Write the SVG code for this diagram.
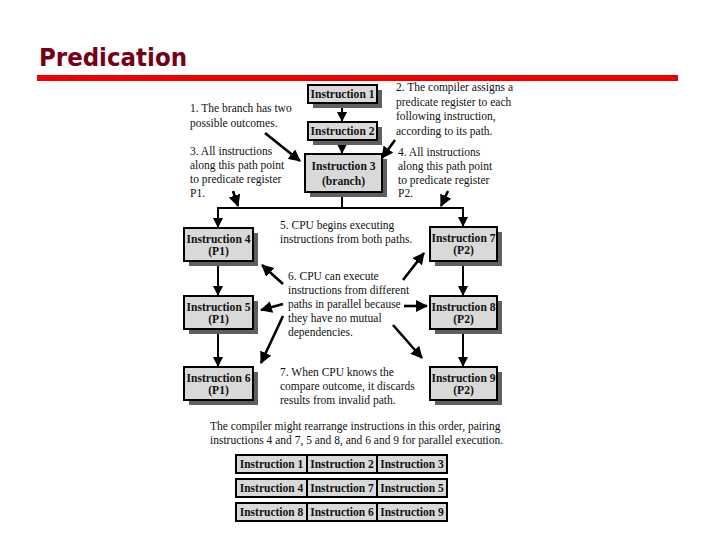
<svg xmlns="http://www.w3.org/2000/svg" width="720" height="540" viewBox="0 0 720 540">
<defs>
<style>
.box{fill:#d9d9d9;stroke:#000;stroke-width:2}
.shadow{fill:#5f5f5f}
.bl{font-family:"Liberation Serif","Times New Roman",serif;font-weight:bold;font-size:11.6px;fill:#111;text-anchor:middle}
.tl{font-family:"Liberation Serif","Times New Roman",serif;font-weight:bold;font-size:11.5px;fill:#111;text-anchor:middle}
.note{font-family:"Liberation Serif","Times New Roman",serif;font-size:11.5px;fill:#111}
.conn{stroke:#000;stroke-width:2;fill:none}
.ann{stroke:#000;stroke-width:2.6;fill:none}
</style>
<marker id="ah" markerUnits="userSpaceOnUse" markerWidth="10" markerHeight="10" refX="10" refY="5" orient="auto">
<path d="M0,0 L10,5 L0,10 z" fill="#000"/>
</marker>
<marker id="big" markerUnits="userSpaceOnUse" markerWidth="12" markerHeight="12" refX="11" refY="6" orient="auto">
<path d="M0,0 L12,6 L0,12 z" fill="#000"/>
</marker>
</defs>
<rect width="720" height="540" fill="#fff"/>
<g id="title">
<text x="39" y="66" font-family="'DejaVu Sans',sans-serif" font-weight="bold" font-size="25" fill="#760016" textLength="148" lengthAdjust="spacingAndGlyphs">Predication</text>
<rect x="37" y="75" width="641" height="6" fill="#ee0000"/>
</g>
<g id="connectors">
<line class="conn" x1="342" y1="104" x2="342" y2="122" marker-end="url(#ah)"/>
<line class="conn" x1="342" y1="141" x2="342" y2="154" marker-end="url(#ah)"/>
<polyline class="conn" points="342,193 342,208"/>
<polyline class="conn" points="218,227 218,208 463,208 463,227" marker-end="url(#ah)"/>
<line class="conn" x1="218" y1="208" x2="218" y2="228" marker-end="url(#ah)"/>
<line class="conn" x1="218" y1="261" x2="218" y2="296" marker-end="url(#ah)"/>
<line class="conn" x1="218" y1="329" x2="218" y2="367" marker-end="url(#ah)"/>
<line class="conn" x1="463" y1="262" x2="463" y2="296" marker-end="url(#ah)"/>
<line class="conn" x1="463" y1="329" x2="463" y2="367" marker-end="url(#ah)"/>
<line class="ann" x1="265" y1="133" x2="300" y2="161" marker-end="url(#big)"/>
<line class="ann" x1="395" y1="140" x2="382" y2="158" marker-end="url(#big)"/>
<line class="ann" x1="233" y1="191" x2="238" y2="206" marker-end="url(#big)"/>
<line class="ann" x1="448" y1="191" x2="441" y2="206" marker-end="url(#big)"/>
<line class="ann" x1="283" y1="284" x2="262" y2="265" marker-end="url(#big)"/>
<line class="ann" x1="283" y1="304" x2="261" y2="310" marker-end="url(#big)"/>
<line class="ann" x1="283" y1="316" x2="261" y2="363" marker-end="url(#big)"/>
<line class="ann" x1="403" y1="280" x2="424" y2="253" marker-end="url(#big)"/>
<line class="ann" x1="404" y1="306" x2="427" y2="306" marker-end="url(#big)"/>
<line class="ann" x1="393" y1="325" x2="422" y2="358" marker-end="url(#big)"/>
</g>
<g id="n1"><rect class="shadow" x="313" y="90" width="69" height="18"/><rect class="box" x="308" y="85" width="69" height="18"/><text class="bl" x="342.5" y="98">Instruction 1</text></g>
<g id="n2"><rect class="shadow" x="313" y="127" width="69" height="18"/><rect class="box" x="308" y="122" width="69" height="18"/><text class="bl" x="342.5" y="135">Instruction 2</text></g>
<g id="n3"><rect class="shadow" x="310" y="159" width="77" height="38"/><rect class="box" x="305" y="154" width="77" height="38"/><text class="bl" x="343.5" y="170">Instruction 3</text><text class="bl" x="343.5" y="185">(branch)</text></g>
<g id="n4"><rect class="shadow" x="189" y="233" width="69" height="33"/><rect class="box" x="184" y="228" width="69" height="33"/><text class="bl" x="218.5" y="243">Instruction 4</text><text class="bl" x="218.5" y="255">(P1)</text></g>
<g id="n5"><rect class="shadow" x="189" y="301" width="69" height="33"/><rect class="box" x="184" y="296" width="69" height="33"/><text class="bl" x="218.5" y="311">Instruction 5</text><text class="bl" x="218.5" y="323">(P1)</text></g>
<g id="n6"><rect class="shadow" x="189" y="372" width="69" height="33"/><rect class="box" x="184" y="367" width="69" height="33"/><text class="bl" x="218.5" y="382">Instruction 6</text><text class="bl" x="218.5" y="394">(P1)</text></g>
<g id="n7"><rect class="shadow" x="435" y="232" width="67" height="34"/><rect class="box" x="430" y="227" width="67" height="34"/><text class="bl" x="463.5" y="242">Instruction 7</text><text class="bl" x="463.5" y="254">(P2)</text></g>
<g id="n8"><rect class="shadow" x="435" y="301" width="67" height="33"/><rect class="box" x="430" y="296" width="67" height="33"/><text class="bl" x="463.5" y="311">Instruction 8</text><text class="bl" x="463.5" y="323">(P2)</text></g>
<g id="n9"><rect class="shadow" x="435" y="372" width="67" height="33"/><rect class="box" x="430" y="367" width="67" height="33"/><text class="bl" x="463.5" y="382">Instruction 9</text><text class="bl" x="463.5" y="394">(P2)</text></g>
<g id="notes" class="note">
<text x="190" y="112">1. The branch has two</text>
<text x="190" y="127">possible outcomes.</text>
<text x="396" y="91">2. The compiler assigns a</text>
<text x="396" y="106">predicate register to each</text>
<text x="396" y="120">following instruction,</text>
<text x="396" y="135">according to its path.</text>
<text x="190" y="155">3. All instructions</text>
<text x="190" y="169">along this path point</text>
<text x="190" y="183">to predicate register</text>
<text x="190" y="197">P1.</text>
<text x="398" y="156">4. All instructions</text>
<text x="398" y="170">along this path point</text>
<text x="398" y="184">to predicate register</text>
<text x="398" y="197">P2.</text>
<text x="280" y="229">5. CPU begins executing</text>
<text x="280" y="243">instructions from both paths.</text>
<text x="288" y="280">6. CPU can execute</text>
<text x="288" y="294">instructions from different</text>
<text x="288" y="308">paths in parallel because</text>
<text x="288" y="322">they have no mutual</text>
<text x="288" y="336">dependencies.</text>
<text x="280" y="376">7. When CPU knows the</text>
<text x="280" y="390">compare outcome, it discards</text>
<text x="280" y="404">results from invalid path.</text>
<text x="210" y="430">The compiler might rearrange instructions in this order, pairing</text>
<text x="210" y="444">instructions 4 and 7, 5 and 8, and 6 and 9 for parallel execution.</text>
</g>
<g id="table">
<g id="row1">
<rect class="box" x="236" y="455" width="71" height="18" stroke-width="2.5"/><rect class="box" x="307" y="455" width="70" height="18" stroke-width="2.5"/><rect class="box" x="377" y="455" width="70" height="18" stroke-width="2.5"/>
<text class="tl" x="271.5" y="468">Instruction 1</text><text class="tl" x="342" y="468">Instruction 2</text><text class="tl" x="412" y="468">Instruction 3</text>
</g>
<g id="row2">
<rect class="box" x="236" y="479" width="71" height="18" stroke-width="2.5"/><rect class="box" x="307" y="479" width="70" height="18" stroke-width="2.5"/><rect class="box" x="377" y="479" width="70" height="18" stroke-width="2.5"/>
<text class="tl" x="271.5" y="492">Instruction 4</text><text class="tl" x="342" y="492">Instruction 7</text><text class="tl" x="412" y="492">Instruction 5</text>
</g>
<g id="row3">
<rect class="box" x="236" y="503" width="71" height="18" stroke-width="2.5"/><rect class="box" x="307" y="503" width="70" height="18" stroke-width="2.5"/><rect class="box" x="377" y="503" width="70" height="18" stroke-width="2.5"/>
<text class="tl" x="271.5" y="516">Instruction 8</text><text class="tl" x="342" y="516">Instruction 6</text><text class="tl" x="412" y="516">Instruction 9</text>
</g>
</g>
</svg>
